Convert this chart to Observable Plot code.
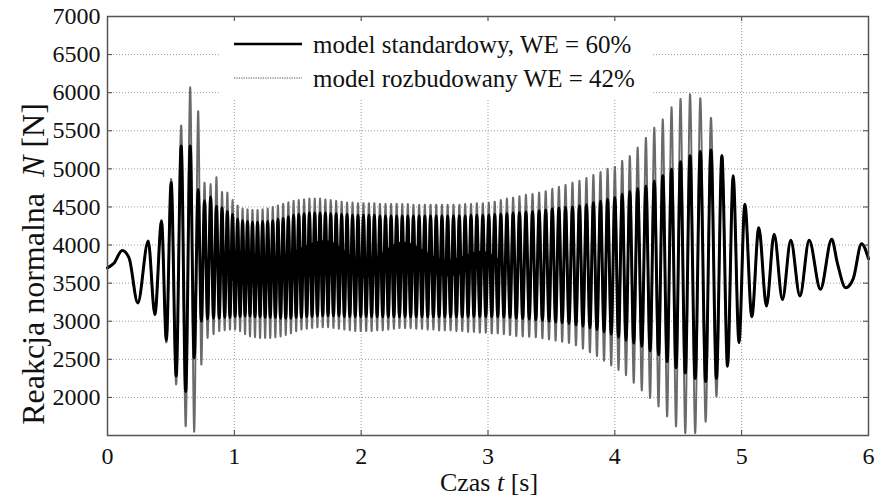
<!DOCTYPE html>
<html>
<head>
<meta charset="utf-8">
<script src="https://cdn.jsdelivr.net/npm/d3@7"></script>
<script src="https://cdn.jsdelivr.net/npm/@observablehq/plot@0.6"></script>
<style>
  html, body { margin: 0; padding: 0; background: #fff; }
  #wrap { position: relative; width: 877px; height: 500px; }
  #wrap svg { position: absolute; left: 0; top: 0; }
  #wrap svg text { font-family: "Liberation Serif", "Times New Roman", serif !important; }
</style>
</head>
<body>
<div id="wrap"></div>
<script>
// ---- data ----
const xTicks = [0, 1, 2, 3, 4, 5, 6];
const yTicks = [2000, 2500, 3000, 3500, 4000, 4500, 5000, 5500, 6000, 6500, 7000];

// initial transient (shared by both models)
const leadT = [0, 0.05, 0.116, 0.17, 0.239];
const leadV = [3700, 3760, 3930, 3830, 3240];

// times of successive oscillation peaks [s]
const peakT = [0.321,0.426,0.502,0.581,0.652,0.715,0.765,0.813,0.859,0.903,0.945,0.986,
  1.026,1.065,1.104,1.143,1.183,1.223,1.263,1.303,1.344,1.385,1.426,1.467,1.508,1.550,1.592,1.634,1.676,1.718,1.760,1.803,1.846,1.889,1.932,1.975,
  2.018,2.061,2.104,2.148,2.192,2.236,2.280,2.324,2.368,2.412,2.457,2.502,2.547,2.592,2.637,2.682,2.728,2.774,2.820,2.866,2.912,2.959,
  3.006,3.053,3.101,3.149,3.198,3.248,3.299,3.351,3.403,3.455,3.507,3.559,3.611,3.666,3.721,3.776,3.831,3.887,3.943,
  4.000,4.058,4.118,4.180,4.245,4.311,4.378,4.447,4.518,4.593,4.674,4.758,4.844,4.933,5.025,5.135,5.256,5.387,5.532];

// model standardowy: peak value and following trough value of each cycle [N]
const stdPeak = [4050,4310,4820,5300,5300,4730,4580,4630,4510,4490,4440,4400,
  4340,4320,4310,4300,4300,4310,4310,4320,4340,4350,4370,4390,4400,4410,4420,4420,4420,4420,4410,4410,4400,4400,4390,4390,
  4390,4390,4390,4380,4380,4380,4380,4380,4380,4380,4380,4380,4380,4380,4380,4380,4380,4380,4380,4390,4390,4390,
  4390,4400,4405,4410,4420,4425,4435,4440,4450,4460,4475,4485,4495,4500,4515,4530,4560,4575,4600,
  4625,4667,4702,4741,4776,4842,4908,4996,5092,5171,5228,5246,5171,4908,4535,4228,4141,4062,4062];
const stdTrough = [3090,2750,2280,2080,2520,3000,3030,3040,3040,3050,3050,3060,
  3060,3070,3070,3060,3060,3050,3050,3050,3040,3040,3040,3050,3050,3060,3060,3070,3070,3070,3070,3070,3060,3060,3060,3060,
  3060,3060,3060,3060,3060,3060,3060,3060,3060,3060,3060,3060,3060,3060,3060,3060,3060,3060,3060,3060,3060,3060,
  3060,3060,3055,3050,3040,3035,3030,3020,3010,3000,2990,2980,2970,2950,2935,2915,2890,2860,2830,
  2790,2750,2710,2670,2610,2560,2470,2390,2320,2250,2210,2250,2410,2720,3060,3200,3285,3330,3420];

// model rozbudowany: peak value and following trough value of each cycle [N]
const extPeak = [4060,4330,4870,5570,6070,5760,4820,4800,4890,4700,4690,4590,
  4520,4480,4470,4460,4460,4470,4480,4500,4520,4540,4560,4580,4590,4600,4610,4610,4610,4600,4590,4580,4570,4560,4560,4550,
  4550,4550,4550,4540,4540,4540,4540,4540,4540,4530,4530,4530,4530,4530,4530,4530,4530,4530,4540,4540,4550,4550,
  4560,4570,4590,4610,4625,4640,4660,4675,4690,4710,4740,4765,4790,4820,4845,4880,4920,4960,5000,
  5030,5105,5170,5280,5410,5540,5650,5810,5920,5980,5930,5670,5180,4910,4535,4228,4141,4062,4062];
const extTrough = [3080,2720,2170,1620,1550,2430,2780,2830,2870,2880,2890,2890,
  2870,2830,2800,2790,2780,2780,2780,2790,2800,2820,2840,2870,2890,2900,2910,2920,2920,2920,2910,2900,2890,2880,2870,2870,
  2870,2870,2880,2880,2890,2900,2910,2910,2910,2900,2900,2890,2890,2880,2880,2880,2870,2870,2860,2860,2850,2850,
  2840,2840,2830,2815,2805,2800,2795,2790,2775,2760,2745,2730,2710,2680,2640,2590,2540,2480,2420,
  2360,2290,2190,2090,1990,1880,1750,1620,1530,1530,1680,2010,2410,2720,3060,3200,3285,3330,3420];

// free decay at the end (shared)
const tailT = [5.710, 5.755, 5.820, 5.880, 5.945, 6.0];
const tailV = [4075, 3760, 3440, 3560, 4018, 3820];

// dense dark band in the middle of the standard-model trace
const bandT  = [0.90, 1.00, 1.30, 1.72, 2.03, 2.33, 2.68, 2.95, 3.10];
const bandHi = [3850, 3930, 3830, 4060, 3780, 4040, 3800, 3920, 3800];
const bandLo = [3700, 3700, 3580, 3800, 3560, 3790, 3580, 3700, 3750];

const legendLabels = ["model standardowy, WE = 60%", "model rozbudowany WE = 42%"];

// ---- build point tables ----
function series(pk, tr) {
  const pts = leadT.map((t, i) => ({t, v: leadV[i]}));
  peakT.forEach((t, i) => {
    pts.push({t, v: pk[i]});
    const next = i + 1 < peakT.length ? peakT[i + 1] : tailT[0];
    pts.push({t: (t + next) / 2, v: tr[i]});
  });
  tailT.forEach((t, i) => pts.push({t, v: tailV[i]}));
  return pts;
}
const stdData = series(stdPeak, stdTrough);
const extData = series(extPeak, extTrough);
const band = bandT.map((t, i) => ({t, lo: bandLo[i], hi: bandHi[i]}));

const W = 877, H = 500, mL = 107, mR = 9, mT = 16, mB = 65;
const pw = W - mL - mR, ph = H - mT - mB;
const serif = '"Liberation Serif", "Times New Roman", serif';

const chart = Plot.plot({
  width: W, height: H,
  marginLeft: mL, marginRight: mR, marginTop: mT, marginBottom: mB,
  x: {domain: [0, 6]},
  y: {domain: [1500, 7000]},
  style: {fontFamily: serif, fontSize: "24px", color: "#111", background: "#fff", overflow: "visible"},
  marks: [
    Plot.ruleX(xTicks.slice(1, -1), {stroke: "#9a9a9a", strokeDasharray: "1,2", strokeWidth: 1}),
    Plot.ruleY(yTicks.slice(0, -1), {stroke: "#9a9a9a", strokeDasharray: "1,2", strokeWidth: 1}),
    Plot.line(extData, {x: "t", y: "v", curve: "monotone-x", stroke: "#6a6a6a", strokeWidth: 2, strokeDasharray: "1,1"}),
    Plot.areaY(band, {x: "t", y1: "lo", y2: "hi", fill: "#000", curve: "monotone-x"}),
    Plot.line(stdData, {x: "t", y: "v", curve: "monotone-x", stroke: "#000", strokeWidth: 3}),
    // inward ticks on all four sides
    Plot.ruleX(xTicks, {insetTop: ph - 5, stroke: "#444"}),
    Plot.ruleX(xTicks, {insetBottom: ph - 5, stroke: "#444"}),
    Plot.ruleY(yTicks, {insetRight: pw - 5, stroke: "#444"}),
    Plot.ruleY(yTicks, {insetLeft: pw - 5, stroke: "#444"}),
    Plot.frame({stroke: "#555", strokeWidth: 1.5}),
    Plot.axisX(xTicks, {anchor: "bottom", tickSize: 0, tickPadding: 11, label: null, tickFormat: d => String(d)}),
    Plot.axisY(yTicks, {anchor: "left", tickSize: 0, tickPadding: 7, label: null, tickFormat: d => String(d)})
  ]
});
const wrap = document.getElementById("wrap");
wrap.appendChild(chart);

// legend (white box hides the grid behind it, as in the reference)
const lg = d3.select(wrap).append("svg")
  .attr("width", W).attr("height", H);
lg.append("rect").attr("x", 220).attr("y", 22).attr("width", 433).attr("height", 77).attr("fill", "#fff");
lg.append("line").attr("x1", 234).attr("x2", 302).attr("y1", 44).attr("y2", 44)
  .attr("stroke", "#000").attr("stroke-width", 2.6);
lg.append("line").attr("x1", 234).attr("x2", 302).attr("y1", 78).attr("y2", 78)
  .attr("stroke", "#888").attr("stroke-width", 1.6).attr("stroke-dasharray", "1.2,1.2");
lg.selectAll("text.lt").data(legendLabels).join("text")
  .attr("x", 313).attr("y", (d, i) => 53 + i * 34)
  .attr("font-family", serif)
  .attr("font-size", 25).attr("fill", "#111").text(d => d);

// axis titles
const yl = lg.append("text")
  .attr("transform", "translate(44,264) rotate(-90)")
  .attr("text-anchor", "middle")
  .attr("font-family", serif)
  .attr("font-size", 32).attr("fill", "#111");
yl.append("tspan").text("Reakcja normalna\u00A0\u00A0");
yl.append("tspan").attr("font-style", "italic").text("N");
yl.append("tspan").text(" [N]");

const xl = lg.append("text")
  .attr("x", 489).attr("y", 491)
  .attr("text-anchor", "middle")
  .attr("font-family", serif)
  .attr("font-size", 26).attr("fill", "#111");
xl.append("tspan").text("Czas ");
xl.append("tspan").attr("font-style", "italic").text("t");
xl.append("tspan").text(" [s]");
</script>
</body>
</html>
